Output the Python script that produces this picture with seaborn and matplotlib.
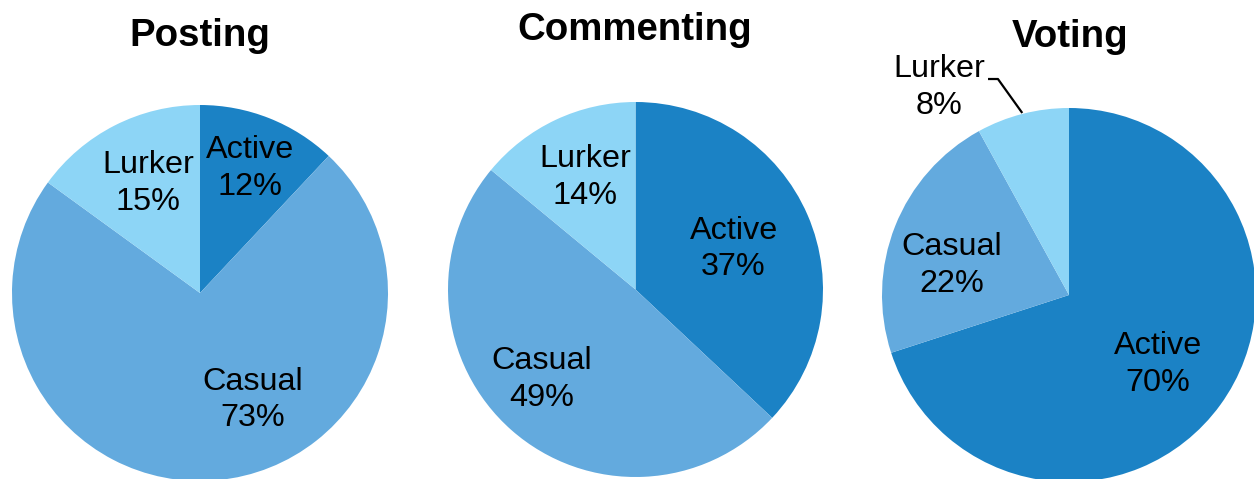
import matplotlib
matplotlib.use("Agg")
import matplotlib.pyplot as plt
import numpy as np
import seaborn as sns

sns.set_theme(style="white")
plt.rcParams['font.family'] = ['Liberation Sans', 'DejaVu Sans']

# ---- data ----
categories = ["Active", "Casual", "Lurker"]
titles = ["Posting", "Commenting", "Voting"]
posting = [12, 73, 15]
commenting = [37, 49, 14]
voting = [70, 22, 8]
series = [posting, commenting, voting]

colors = ["#1b82c5", "#63aade", "#8dd5f6"]

W, H = 1254, 479
fig = plt.figure(figsize=(W / 100, H / 100), dpi=100)

# pie geometry in pixels (center x, center y from top, radius)
geom = [(200, 293, 188), (635.5, 289.5, 187.5), (1069, 295, 187)]
title_pos = [(200, 46), (635, 40), (1070, 47)]
# label positions in pie units (radius = 1)
label_pos = [
    [(0.266, 0.660), (0.282, -0.569), (-0.277, 0.582)],
    [(0.523, 0.216), (-0.499, -0.480), (-0.270, 0.597)],
    [(0.476, -0.374), (-0.626, 0.160), (-0.695, 1.110)],
]

for i, (vals, (cx, cy, R)) in enumerate(zip(series, geom)):
    ax = fig.add_axes([(cx - R) / W, (H - (cy + R)) / H, 2 * R / W, 2 * R / H])
    wedges, _ = ax.pie(vals, colors=colors, startangle=90, counterclock=False,
                       radius=1, wedgeprops=dict(linewidth=0))
    ax.set_xlim(-1, 1)
    ax.set_ylim(-1, 1)
    ax.set_axis_off()
    for w in wedges:
        w.set_clip_on(False)
    for j, (cat, v) in enumerate(zip(categories, vals)):
        lx, ly = label_pos[i][j]
        ax.text(lx, ly, f"{cat}\n{v}%", ha="center", va="center",
                fontsize=23.3, color="black", linespacing=1.3, clip_on=False)
    if i == 2:
        # leader line for the small Lurker slice
        w = wedges[2]
        ang = np.deg2rad((w.theta1 + w.theta2) / 2)
        ex, ey = np.cos(ang), np.sin(ang)
        ax.plot([-0.433, -0.380, ex * 1.005], [1.155, 1.155, ey * 1.005],
                color="black", lw=1.6, clip_on=False, solid_capstyle="butt")
    tx, ty = title_pos[i]
    fig.text(tx / W, 1 - ty / H, titles[i], ha="center", va="baseline",
             fontsize=27.6, fontweight="bold", color="black")

fig.savefig("out.png", dpi=100)
